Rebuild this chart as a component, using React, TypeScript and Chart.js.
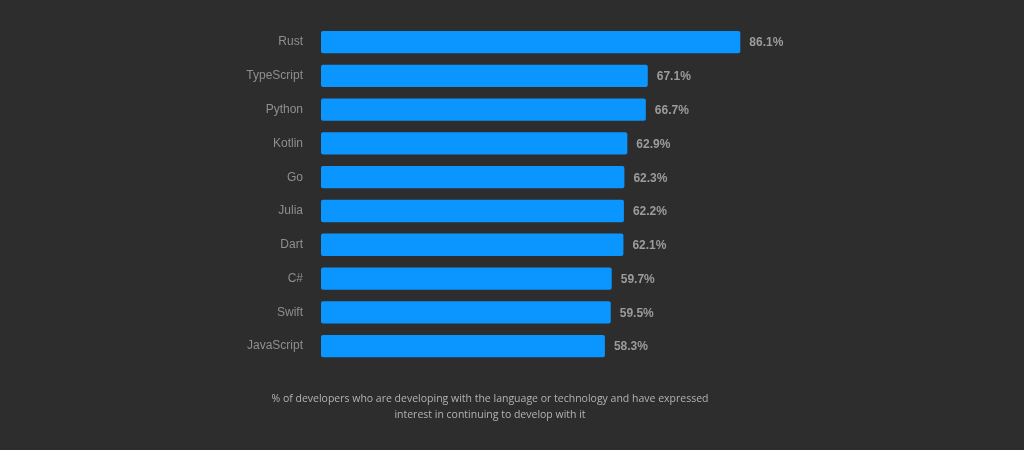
import React, { useEffect, useRef } from "react";
import { Chart, registerables } from "chart.js";

Chart.register(...registerables);

const languages = ["Rust", "TypeScript", "Python", "Kotlin", "Go", "Julia", "Dart", "C#", "Swift", "JavaScript"];
const lovedPercent = [86.1, 67.1, 66.7, 62.9, 62.3, 62.2, 62.1, 59.7, 59.5, 58.3];
const captionLines = [
  "% of developers who are developing with the language or technology and have expressed",
  "interest in continuing to develop with it",
];

const valueLabelPlugin = {
  id: "valueLabels",
  afterDatasetsDraw(chart: any) {
    const ctx = chart.ctx;
    const meta = chart.getDatasetMeta(0);
    ctx.save();
    ctx.font = "bold 12px Arial, 'Liberation Sans', sans-serif";
    ctx.fillStyle = "#9c9c9c";
    ctx.textAlign = "left";
    ctx.textBaseline = "middle";
    meta.data.forEach((bar: any, i: number) => {
      ctx.fillText(lovedPercent[i].toFixed(1) + "%", bar.x + 9, bar.y + 1);
    });
    ctx.restore();
  },
};

export default function App() {
  const canvasRef = useRef<HTMLCanvasElement>(null);

  useEffect(() => {
    document.body.style.margin = "0";
    const chart = new Chart(canvasRef.current!, {
      type: "bar",
      data: {
        labels: languages,
        datasets: [
          {
            data: lovedPercent,
            backgroundColor: "#0a95ff",
            borderRadius: 2,
            borderSkipped: false,
            barPercentage: 0.66,
            categoryPercentage: 1,
          },
        ],
      },
      options: {
        indexAxis: "y",
        animation: false,
        responsive: false,
        maintainAspectRatio: false,
        layout: { padding: { top: 23, bottom: 87, right: 216, left: 0 } },
        plugins: { legend: { display: false }, tooltip: { enabled: false } },
        scales: {
          x: {
            min: 0,
            max: 100,
            display: false,
          },
          y: {
            grid: { display: false, drawTicks: false },
            border: { display: false },
            ticks: {
              color: "#8f8f8f",
              padding: 18,
              font: { family: "Arial, 'Liberation Sans', sans-serif", size: 12 },
            },
            afterFit(scale: any) {
              scale.width = 321;
            },
          },
        },
      },
      plugins: [valueLabelPlugin],
    });
    return () => chart.destroy();
  }, []);

  return (
    <div
      style={{
        position: "relative",
        width: 1024,
        height: 450,
        background: "#2d2d2d",
        overflow: "hidden",
      }}
    >
      <canvas ref={canvasRef} width={1024} height={450} style={{ display: "block" }} />
      <div
        style={{
          position: "absolute",
          left: 0,
          top: 391,
          width: 980,
          textAlign: "center",
          fontFamily: "'Open Sans', 'Noto Sans', sans-serif",
          fontSize: 10.5,
          lineHeight: "15.5px",
          color: "#b3b3b3",
        }}
      >
        {captionLines.map((l, i) => (
          <div key={i}>{l}</div>
        ))}
      </div>
    </div>
  );
}
